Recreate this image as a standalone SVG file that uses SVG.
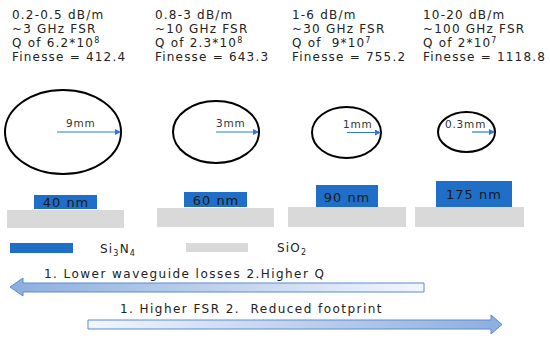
<svg xmlns="http://www.w3.org/2000/svg" width="550" height="338" viewBox="0 0 550 338">
<defs>
<style>
.t{font-family:"DejaVu Sans","Liberation Sans",sans-serif;font-size:12px;letter-spacing:1.2px;fill:#222}
.l{font-family:"DejaVu Sans","Liberation Sans",sans-serif;font-size:12px;letter-spacing:1.45px;fill:#222}
.s{font-family:"DejaVu Sans","Liberation Sans",sans-serif;font-size:10.5px;letter-spacing:0.8px;fill:#333}
.b{font-family:"DejaVu Sans","Liberation Sans",sans-serif;font-size:13px;letter-spacing:1px;fill:#1a1a1a}
.ring{fill:none;stroke:#000;stroke-width:2}
.rad{stroke:#2a7ad8;stroke-width:1.2}
.wg{fill:#1f6fc8}
.sub{fill:#d9d9d9}
.arr{stroke:#5a8ad0;stroke-width:1}
</style>
<marker id="ah" markerWidth="6" markerHeight="6" refX="5" refY="3" orient="auto" markerUnits="userSpaceOnUse">
<path d="M0,0 L6,3 L0,6 z" fill="#2a7ad8"/>
</marker>
<linearGradient id="gl" x1="0" y1="0" x2="1" y2="0">
<stop offset="0" stop-color="#8caede"/>
<stop offset="1" stop-color="#f2f6fd"/>
</linearGradient>
<linearGradient id="gr" x1="0" y1="0" x2="1" y2="0">
<stop offset="0" stop-color="#f2f6fd"/>
<stop offset="1" stop-color="#8caede"/>
</linearGradient>
</defs>
<rect width="550" height="338" fill="#fff"/>

<g id="col1">
<text class="t" x="12" y="19">0.2-0.5 dB/m</text>
<text class="t" x="12" y="33">~3 GHz FSR</text>
<text class="t" x="12" y="47">Q of 6.2*10<tspan font-size="8" dy="-4">8</tspan></text>
<text class="t" x="12" y="61">Finesse = 412.4</text>
</g>
<g id="col2">
<text class="t" x="155" y="19">0.8-3 dB/m</text>
<text class="t" x="155" y="33">~10 GHz FSR</text>
<text class="t" x="155" y="47">Q of 2.3*10<tspan font-size="8" dy="-4">8</tspan></text>
<text class="t" x="155" y="61">Finesse = 643.3</text>
</g>
<g id="col3">
<text class="t" x="292" y="19">1-6 dB/m</text>
<text class="t" x="292" y="33">~30 GHz FSR</text>
<text class="t" x="292" y="47" xml:space="preserve">Q of  9*10<tspan font-size="8" dy="-4">7</tspan></text>
<text class="t" x="292" y="61">Finesse = 755.2</text>
</g>
<g id="col4">
<text class="t" x="423" y="19">10-20 dB/m</text>
<text class="t" x="423" y="33">~100 GHz FSR</text>
<text class="t" x="423" y="47">Q of 2*10<tspan font-size="8" dy="-4">7</tspan></text>
<text class="t" x="423" y="61">Finesse = 1118.8</text>
</g>

<g id="ring1">
<ellipse class="ring" cx="63" cy="132" rx="58" ry="42"/>
<line class="rad" x1="57" y1="132" x2="120" y2="132" marker-end="url(#ah)"/>
<text class="s" x="66" y="127">9mm</text>
</g>
<g id="ring2">
<ellipse class="ring" cx="216" cy="132" rx="43" ry="31"/>
<line class="rad" x1="216" y1="132" x2="258" y2="132" marker-end="url(#ah)"/>
<text class="s" x="216" y="127">3mm</text>
</g>
<g id="ring3">
<ellipse class="ring" cx="346.5" cy="132.5" rx="34.5" ry="25.5"/>
<line class="rad" x1="347" y1="132.5" x2="380" y2="132.5" marker-end="url(#ah)"/>
<text class="s" x="343" y="128">1mm</text>
</g>
<g id="ring4">
<ellipse class="ring" cx="466.5" cy="132" rx="28.5" ry="20"/>
<line class="rad" x1="472" y1="132" x2="494" y2="132" marker-end="url(#ah)"/>
<text class="s" x="445" y="128">0.3mm</text>
</g>

<g id="wg1">
<rect class="sub" x="7" y="210" width="117" height="18"/>
<rect class="wg" x="34" y="195" width="63" height="14"/>
<text class="b" x="66" y="207" text-anchor="middle">40 nm</text>
</g>
<g id="wg2">
<rect class="sub" x="157" y="208" width="117" height="19"/>
<rect class="wg" x="184" y="192" width="63" height="15"/>
<text class="b" x="216" y="205" text-anchor="middle">60 nm</text>
</g>
<g id="wg3">
<rect class="sub" x="288" y="207" width="118" height="20"/>
<rect class="wg" x="316" y="185" width="62" height="22"/>
<text class="b" x="347" y="202" text-anchor="middle">90 nm</text>
</g>
<g id="wg4">
<rect class="sub" x="415" y="207" width="109" height="20"/>
<rect class="wg" x="436" y="181" width="76" height="26"/>
<text class="b" x="474" y="199" text-anchor="middle">175 nm</text>
</g>

<g id="legend">
<rect class="wg" x="10" y="243" width="63" height="10"/>
<text class="t" x="100" y="253">Si<tspan font-size="8" dy="3">3</tspan><tspan dy="-3">N</tspan><tspan font-size="8" dy="3">4</tspan></text>
<rect class="sub" x="186" y="243" width="62" height="9"/>
<text class="t" x="277" y="252">SiO<tspan font-size="8" dy="3">2</tspan></text>
</g>

<g id="arrows">
<path class="arr" fill="url(#gl)" d="M10,287 L23,278 L23,283 L424,283 L424,292 L23,292 L23,296 Z"/>
<text class="l" x="44" y="278">1. Lower waveguide losses 2.Higher Q</text>
<path class="arr" fill="url(#gr)" d="M88,320 L491,320 L491,315 L502,324.5 L491,334 L491,329 L88,329 Z"/>
<text class="l" x="120" y="313" xml:space="preserve">1. Higher FSR 2.  Reduced footprint</text>
</g>
</svg>
